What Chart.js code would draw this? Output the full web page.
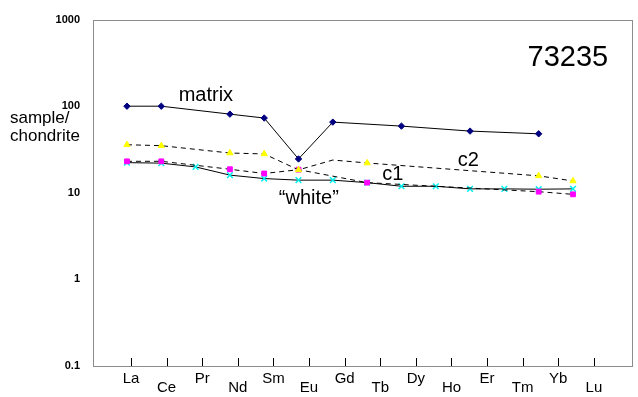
<!DOCTYPE html>
<html>
<head>
<meta charset="utf-8">
<script src="https://cdn.jsdelivr.net/npm/chart.js@4/dist/chart.umd.min.js"></script>
<style>
  html, body { margin: 0; padding: 0; background: #fff; }
</style>
</head>
<body>
<canvas id="reeChart" width="638" height="397"></canvas>
<script>
// REE pattern, sample 73235 (normalised to chondrite)
const elements = ['La', 'Ce', 'Pr', 'Nd', 'Sm', 'Eu', 'Gd', 'Tb', 'Dy', 'Ho', 'Er', 'Tm', 'Yb', 'Lu'];
const yTicks = [1000, 100, 10, 1, 0.1];
const matrix = [100, 100, null, 81, 73, 24.6, 65.5, null, 58.9, null, 51.6, null, 48, null];
const c2 = [35.9, 35, null, 28.8, 28.1, 18.4, 23.9, 22.1, null, null, null, null, 15.7, 13.7];
const c1 = [23.1, 23.1, null, 18.7, 16.7, 18.5, null, 13.1, null, null, null, null, 10.3, 9.6];
const white = [22.3, 22, 19.9, 16, 14.6, 14, 14, 13.1, 11.9, 11.9, 11.1, 11.1, 11, 11.1];

const FONT = '"Liberation Sans", Arial, sans-serif';

function points(arr) {
    return arr.map((v, i) => ({ x: i, y: v })).filter(p => p.y !== null);
}

// text written on the plot, placed in data units
const notes = [
    { text: 'matrix', x: 2.3, y: 132, size: 20 },
    { text: '73235', x: 12.85, y: 360, size: 29 },
    { text: 'c1', x: 7.75, y: 16.3, size: 20 },
    { text: 'c2', x: 9.95, y: 23.5, size: 20 },
    { text: '\u201cwhite\u201d', x: 5.3, y: 8.5, size: 20 }
];

const decorations = {
    id: 'decorations',
    afterDraw(chart) {
        const ctx = chart.ctx;
        const a = chart.chartArea;
        const xs = chart.scales.x;
        const ys = chart.scales.y;
        const lab = chart.scales.x2;
        ctx.save();
        // plot box
        ctx.strokeStyle = '#8c8c8c';
        ctx.lineWidth = 1;
        ctx.strokeRect(Math.round(a.left) + 0.5, Math.round(a.top) + 0.5,
            Math.round(a.right - a.left), Math.round(a.bottom - a.top));
        // inner tick marks on the element axis
        ctx.strokeStyle = '#000';
        lab.ticks.forEach(t => {
            const px = Math.round(lab.getPixelForValue(t.value)) + 0.5;
            ctx.beginPath();
            ctx.moveTo(px, a.bottom);
            ctx.lineTo(px, a.bottom - 8);
            ctx.stroke();
        });
        // y axis title
        ctx.fillStyle = '#000';
        ctx.font = '17px ' + FONT;
        ctx.textAlign = 'left';
        ctx.textBaseline = 'middle';
        ctx.fillText('sample/', 10, 118);
        ctx.fillText('chondrite', 10, 136);
        // series labels
        ctx.textAlign = 'center';
        notes.forEach(n => {
            ctx.font = n.size + 'px ' + FONT;
            ctx.fillText(n.text, xs.getPixelForValue(n.x), ys.getPixelForValue(n.y));
        });
        ctx.restore();
    }
};

const ctx = document.getElementById('reeChart').getContext('2d');
const chart = new Chart(ctx, {
    type: 'line',
    data: {
        datasets: [
            {
                label: 'matrix',
                data: points(matrix),
                borderColor: '#000',
                borderWidth: 1,
                pointStyle: 'rectRot',
                pointRadius: 3.2,
                pointBackgroundColor: '#000080',
                pointBorderColor: '#000080',
                pointBorderWidth: 1
            },
            {
                label: 'c2',
                data: points(c2),
                borderColor: '#000',
                borderWidth: 1,
                borderDash: [5, 4],
                pointStyle: 'triangle',
                pointRadius: [3.6, 3.6, 3.6, 3.6, 3.6, 0, 3.6, 3.6, 3.6],
                pointBackgroundColor: '#ffff00',
                pointBorderColor: '#ffff00',
                pointBorderWidth: 1
            },
            {
                label: 'c1',
                data: points(c1),
                borderColor: '#000',
                borderWidth: 1,
                borderDash: [5, 4],
                pointStyle: 'rect',
                pointRadius: 3.4,
                pointBackgroundColor: '#ff00ff',
                pointBorderColor: '#ff00ff',
                pointBorderWidth: 1
            },
            {
                label: 'white',
                data: points(white),
                borderColor: '#000',
                borderWidth: 1,
                pointStyle: 'crossRot',
                pointRadius: 4,
                pointBorderColor: '#00f0f0',
                pointBorderWidth: 1.5
            }
        ]
    },
    options: {
        responsive: false,
        animation: false,
        layout: { padding: { left: 0, right: 6, top: 6, bottom: 0 } },
        plugins: {
            legend: { display: false },
            tooltip: { enabled: false }
        },
        scales: {
            x: {
                type: 'linear',
                display: false,
                min: -0.99,
                max: 14.72
            },
            x2: {
                type: 'linear',
                position: 'bottom',
                min: -1.067,
                max: 14.07,
                grid: { display: false, drawTicks: false },
                border: { display: false },
                afterBuildTicks: scale => {
                    scale.ticks = elements.map((e, i) => ({ value: i }));
                },
                afterFit: scale => { scale.height = 31; },
                ticks: {
                    autoSkip: false,
                    maxRotation: 0,
                    padding: 9,
                    color: '#000',
                    font: { family: FONT, size: 15, lineHeight: 0.55 },
                    callback: (v) => {
                        const name = elements[v];
                        return v % 2 === 1 ? ['', name] : name;
                    }
                }
            },
            y: {
                type: 'logarithmic',
                min: 0.1,
                max: 1000,
                grid: { display: false, drawTicks: false },
                border: { display: false },
                afterBuildTicks: scale => {
                    scale.ticks = yTicks.map(v => ({ value: v }));
                },
                afterFit: scale => { scale.width = 93; },
                ticks: {
                    padding: 13,
                    color: '#000',
                    font: { family: FONT, size: 11, weight: 'bold' },
                    callback: v => String(v)
                }
            }
        }
    },
    plugins: [decorations]
});
</script>
</body>
</html>
